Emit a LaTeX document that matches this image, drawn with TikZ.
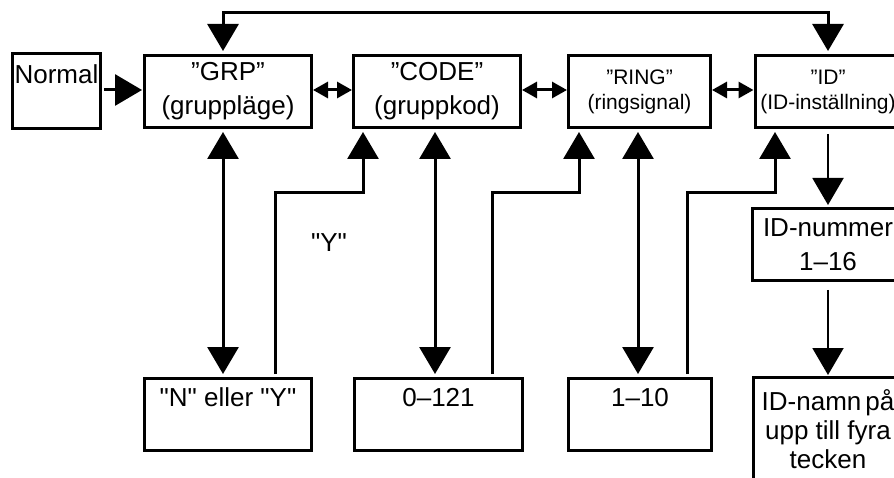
\documentclass[tikz,border=0pt]{standalone}
\usepackage{fontspec}
\newfontfamily\diafont{Liberation Sans}
\usetikzlibrary{arrows.meta}
\tikzset{
  box/.style={draw,line width=3pt,inner sep=0pt,minimum height=72pt,align=center,font=\diafont\fontsize{26}{34}\selectfont},
  smallbox/.style={box,font=\diafont\fontsize{21}{25}\selectfont},
  link/.style={line width=3pt},
  thinlink/.style={line width=2pt},
  bigtip/.style={-{Triangle[length=27pt,width=31pt]}},
  bigboth/.style={{Triangle[length=27pt,width=31pt]}-{Triangle[length=27pt,width=31pt]}},
  smallboth/.style={{Triangle[length=15pt,width=16pt]}-{Triangle[length=15pt,width=16pt]}}
}

\begin{document}
\begin{tikzpicture}[x=1pt,y=-1pt]
  \useasboundingbox (0,0) rectangle (894,478);
  \clip (0,0) rectangle (894,478);

  % Top row
  \node[box,minimum width=88pt,minimum height=75pt] (normal) at (56.5,91.5) {Normal\\\mbox{}};
  \node[box,minimum width=167pt] (grp) at (228,91.5) {”GRP”\\(gruppläge)};
  \node[box,minimum width=167pt] (code) at (437,91.5) {”CODE”\\(gruppkod)};
  \node[smallbox,minimum width=142pt] (ring) at (639.5,91.5) {”RING”\\(ringsignal)};
  \node[smallbox,minimum width=146pt] (id) at (828,91.5) {”ID”\\(ID-inställning)};

  % ID column
  \node[box,minimum width=151pt] (idnum) at (828,244.5) {ID-nummer\\1–16};
  \node[box,minimum width=150pt,minimum height=104pt,anchor=north,font=\diafont\fontsize{26}{29}\selectfont] (idname) at (828,376) {ID-namn\hspace{4pt}på\\upp till fyra\\tecken};

  % Bottom row
  \node[box,minimum width=167pt] (nory) at (228,414.5) {"N" eller "Y"\\\mbox{}};
  \node[box,minimum width=168pt] (codeval) at (438.5,414.5) {0–121\\\mbox{}};
  \node[box,minimum width=143pt] (ringval) at (640,414.5) {1–10\\\mbox{}};

  \node[font=\diafont\fontsize{26}{34}\selectfont] (ylabel) at (329,243) {"Y"};

  % Connectors
  \draw[link,bigtip,shorten <=2pt,shorten >=1pt] ([yshift=1.5pt]normal.east) -- ([yshift=1.5pt]grp.west);
  \draw[link,smallboth] ([yshift=1.5pt]grp.east) -- ([yshift=1.5pt]code.west);
  \draw[link,smallboth] ([yshift=1.5pt]code.east) -- ([yshift=1.5pt]ring.west);
  \draw[link,smallboth] ([yshift=1.5pt]ring.east) -- ([yshift=1.5pt]id.west);
  \draw[link,bigboth,shorten <=3pt,shorten >=3pt] ([xshift=-5pt]grp.north) -- ++(0,-41) -| (id.north);

  \draw[link,bigboth,shorten <=3pt,shorten >=3pt] ([xshift=-5pt]grp.south) -- ([xshift=-5pt]nory.north);
  \draw[link,bigboth,shorten <=3pt,shorten >=3pt] ([xshift=-2pt]code.south) -- ([xshift=-3.5pt]codeval.north);
  \draw[link,bigboth,shorten <=3pt,shorten >=3pt] ([xshift=-1.5pt]ring.south) -- ([xshift=-2pt]ringval.north);

  \draw[link,bigtip,shorten <=3pt,shorten >=3pt] ([xshift=47pt]nory.north) -- ++(0,-184) -| ([xshift=-74pt]code.south);
  \draw[link,bigtip,shorten <=3pt,shorten >=3pt] ([xshift=53.5pt]codeval.north) -- ++(0,-184) -| ([xshift=-60.5pt]ring.south);
  \draw[link,bigtip,shorten <=3pt,shorten >=3pt] ([xshift=47pt]ringval.north) -- ++(0,-184) -| ([xshift=-53pt]id.south);

  \draw[thinlink,bigtip,shorten <=5pt,shorten >=2pt] (id) -- (idnum);
  \draw[thinlink,bigtip,shorten <=8pt,shorten >=1pt] (idnum) -- (idname);
\end{tikzpicture}
\end{document}
